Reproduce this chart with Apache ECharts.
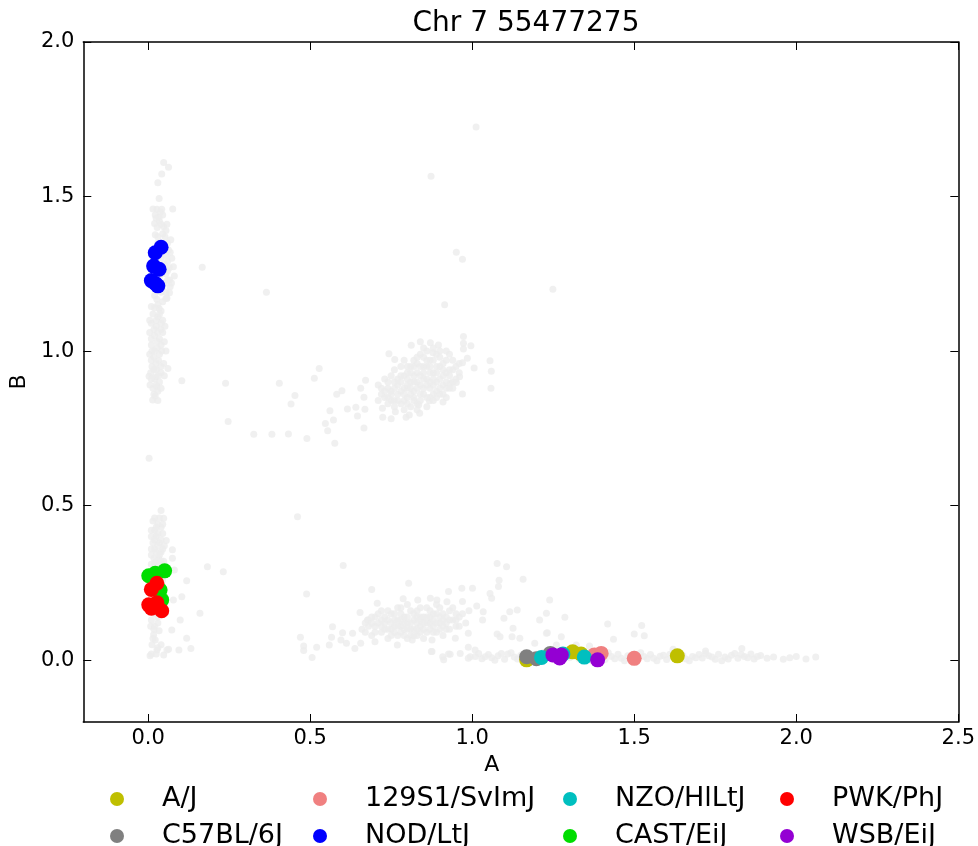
<!DOCTYPE html>
<html>
<head>
<meta charset="utf-8">
<script src="https://cdn.jsdelivr.net/npm/echarts@6/dist/echarts.min.js"></script>
<style>html,body{margin:0;padding:0;background:#fff;}#c{width:978px;height:846px;}</style>
</head>
<body>
<div id="c"></div>
<script>
// ---------------- data ----------------
const titleText = 'Chr 7 55477275';
const xTicks = [0.0, 0.5, 1.0, 1.5, 2.0, 2.5];
const yTicks = [0.0, 0.5, 1.0, 1.5, 2.0];
const strains = ['A/J', 'C57BL/6J', '129S1/SvImJ', 'NOD/LtJ', 'NZO/HlLtJ', 'CAST/EiJ', 'PWK/PhJ', 'WSB/EiJ'];

const ajPts   = [[1.168,0.001],[1.310,0.027],[1.336,0.020],[1.633,0.014]];
const b6Pts   = [[1.168,0.011],[1.198,0.005],[1.241,0.022]];
const s129Pts = [[1.377,0.017],[1.398,0.022],[1.500,0.006]];
const nodPts  = [[0.040,1.336],[0.022,1.318],[0.017,1.275],[0.034,1.265],[0.010,1.228],[0.030,1.211],[0.022,1.219]];
const nzoPts  = [[1.214,0.009],[1.280,0.020],[1.346,0.010]];
const castPts = [[0.002,0.273],[0.022,0.281],[0.051,0.289],[0.042,0.195],[0.037,0.227]];
const pwkPts  = [[0.027,0.249],[0.010,0.229],[0.002,0.179],[0.027,0.186],[0.042,0.160],[0.010,0.168]];
const wsbPts  = [[1.249,0.017],[1.275,0.017],[1.270,0.007],[1.387,0.001]];

const bgLeftTop = [[0.048,1.610],[0.063,1.595],[0.042,1.573],[0.030,1.545],[0.034,1.494],[0.027,1.459],[0.042,1.459],[0.076,1.460],[0.022,1.440],[0.034,1.433],[0.048,1.402],[0.020,1.413],[0.022,1.376],[0.052,1.370],[0.063,1.327],[0.073,1.300],[0.078,1.273],[0.081,1.243],[0.066,1.230],[0.068,1.208],[0.066,1.189],[0.058,1.171],[0.027,1.168],[0.034,1.138],[0.010,1.144],[0.167,1.271],[0.104,0.904],[0.239,0.896],[0.061,0.944],[0.014,0.842],[0.022,0.855],[0.027,0.885],[0.006,0.890],[0.003,0.919],[0.024,0.917],
[0.035,1.42],[0.045,1.38],[0.030,1.35],[0.050,1.34],[0.040,1.30],[0.060,1.29],[0.045,1.26],[0.055,1.25],[0.035,1.24],[0.050,1.22],[0.040,1.19],[0.020,1.18],[0.045,1.16],[0.015,1.12],[0.030,1.11],[0.045,1.10],[0.010,1.09],[0.025,1.08],[0.040,1.07],[0.005,1.06],[0.020,1.05],[0.035,1.04],[0.050,1.03],[0.010,1.02],[0.028,1.01],[0.042,1.00],[0.005,0.99],[0.018,0.98],[0.032,0.97],[0.048,0.96],[0.012,0.95],[0.026,0.94],[0.040,0.93],[0.008,0.93],[0.020,0.91],[0.035,0.90],[0.015,0.88],[0.030,0.87],[0.040,1.13],[0.052,1.08],[0.055,1.00],[0.050,0.92],[0.012,1.00],[0.038,1.45],[0.028,1.40],[0.058,1.41],[0.070,1.36],[0.068,1.32],[0.060,1.26],[0.072,1.22],[0.055,1.19],[0.025,1.29],[0.020,1.26],
[0.015,1.46],[0.045,1.44],[0.025,1.43],[0.040,1.41],[0.055,1.39],[0.030,1.37],[0.060,1.35],[0.045,1.33],[0.055,1.31],[0.035,1.31],[0.050,1.28],[0.065,1.27],[0.040,1.25],[0.060,1.23],[0.045,1.21],[0.055,1.17],[0.030,1.15],[0.020,1.14],[0.035,1.12],[0.025,1.10],[0.005,1.10],[0.040,1.09],[0.018,1.07],[0.030,1.06],[0.045,1.06],[0.010,1.04],[0.028,1.03],[0.040,1.02],[0.020,1.00],[0.035,0.99],[0.010,0.97],[0.025,0.96],[0.040,0.95],[0.018,0.94],[0.032,0.92],[0.010,0.91],[0.025,0.89],[0.040,0.88],[0.018,0.86],[0.030,0.84]];

const bgLeftBottom = [[0.247,0.772],[0.003,0.653],[0.183,0.302],[0.232,0.286],[0.119,0.257],[0.104,0.205],[0.078,0.195],[0.160,0.152],[0.099,0.130],[0.073,0.098],[0.119,0.071],[0.132,0.038],[0.095,0.033],[0.063,0.035],[0.034,0.095],[0.017,0.082],[0.022,0.065],[0.027,0.033],[0.006,0.014],[0.048,0.017],[0.058,0.033],[0.075,0.357],[0.075,0.330],[0.081,0.292],[0.056,0.387],[0.040,0.484],[0.048,0.459],
[0.015,0.45],[0.030,0.44],[0.020,0.42],[0.040,0.43],[0.010,0.40],[0.025,0.40],[0.045,0.41],[0.015,0.38],[0.035,0.38],[0.050,0.37],[0.010,0.36],[0.025,0.35],[0.040,0.35],[0.018,0.33],[0.032,0.33],[0.048,0.32],[0.010,0.31],[0.025,0.30],[0.040,0.30],[0.015,0.29],[0.055,0.30],[0.030,0.27],[0.045,0.26],[0.020,0.24],[0.040,0.22],[0.015,0.20],[0.035,0.17],[0.020,0.15],[0.010,0.13],[0.030,0.12],[0.012,0.05],[0.025,0.02],[0.040,0.05],[0.008,0.11],
[0.020,0.46],[0.035,0.46],[0.025,0.43],[0.045,0.44],[0.010,0.42],[0.030,0.41],[0.020,0.39],[0.040,0.39],[0.030,0.37],[0.045,0.36],[0.020,0.36],[0.035,0.34],[0.010,0.34],[0.025,0.32],[0.040,0.32],[0.020,0.31],[0.035,0.31],[0.050,0.29],[0.010,0.28],[0.040,0.28],[0.005,0.26],[0.025,0.26],[0.050,0.23],[0.045,0.19],[0.030,0.14],[0.018,0.10],[0.015,0.07],[0.030,0.04],[0.010,0.02],[0.020,0.11]];

const bgMidTop = [[0.873,1.566],[0.951,1.320],[0.970,1.297],[1.249,1.200],[0.365,1.190],[0.915,1.150],[1.012,1.725],[0.405,0.896],[0.528,0.944],[0.513,0.912],[0.453,0.856],[0.441,0.829],[0.326,0.731],[0.382,0.731],[0.433,0.732],[0.490,0.717],[0.576,0.702],[0.554,0.742],[0.547,0.766],[0.572,0.777],[0.561,0.807],[0.582,0.860],[0.598,0.872],[0.615,0.813],[0.641,0.818],[0.646,0.790],[0.666,0.751],[0.669,0.812],[0.671,0.906],[0.656,0.880],[0.666,0.851],[0.723,0.815],[0.724,0.786],[0.750,0.781],[0.743,0.991],[0.761,0.973],[0.763,0.804],[0.796,0.786],[0.806,0.793],[0.838,0.799],[0.812,1.019],[0.840,1.030],[0.871,1.027],[0.896,1.020],[0.879,0.995],[0.973,1.047],[0.973,1.025],[0.973,1.007],[0.996,1.017],[0.985,0.977],[0.970,0.962],[1.006,0.945],[1.055,0.969],[1.059,0.935],[1.058,0.880],[0.970,0.861],[0.910,0.835],[0.868,0.839],[0.835,0.826],[0.932,0.896],[0.951,0.898],[0.961,0.917],
[0.72,0.86],[0.74,0.88],[0.75,0.84],[0.76,0.90],[0.77,0.86],[0.78,0.92],[0.78,0.83],[0.79,0.88],[0.80,0.95],[0.80,0.85],[0.81,0.90],[0.82,0.97],[0.82,0.87],[0.83,0.93],[0.83,0.83],[0.84,0.89],[0.84,0.99],[0.85,0.95],[0.85,0.86],[0.86,0.91],[0.86,0.82],[0.87,0.97],[0.87,0.88],[0.88,0.93],[0.88,0.84],[0.89,0.99],[0.89,0.90],[0.90,0.95],[0.90,0.86],[0.91,0.92],[0.92,0.97],[0.92,0.88],[0.93,0.94],[0.94,0.90],[0.76,0.94],[0.79,0.97],[0.81,0.82],[0.73,0.91],[0.71,0.89],[0.74,0.83],[0.95,0.95],[0.96,0.93],[0.93,0.99],[0.90,1.00],[0.86,1.00],[0.80,0.91],[0.82,0.92],[0.84,0.86],[0.85,0.91],[0.87,0.93],[0.88,0.89],[0.83,0.96],[0.77,0.89],[0.79,0.84],[0.75,0.87],[0.91,0.96],[0.89,0.95],[0.94,0.97],[0.85,0.98],[0.81,0.95],[0.78,0.95],[0.76,0.82],[0.92,0.85],[0.87,0.85],[0.83,0.90],[0.86,0.95],[0.80,0.88],[0.89,0.87],[0.82,0.84],[0.91,0.89],
[0.71,0.84],[0.72,0.88],[0.73,0.85],[0.73,0.87],[0.74,0.90],[0.75,0.86],[0.75,0.92],[0.76,0.84],[0.76,0.88],[0.77,0.91],[0.77,0.84],[0.78,0.87],[0.78,0.90],[0.79,0.86],[0.79,0.92],[0.80,0.83],[0.80,0.89],[0.80,0.93],[0.81,0.86],[0.81,0.88],[0.81,0.93],[0.82,0.85],[0.82,0.90],[0.82,0.95],[0.83,0.88],[0.83,0.98],[0.84,0.84],[0.84,0.92],[0.84,0.95],[0.85,0.88],[0.85,0.93],[0.86,0.85],[0.86,0.89],[0.86,0.97],[0.87,0.90],[0.87,0.95],[0.88,0.86],[0.88,0.91],[0.88,0.97],[0.89,0.85],[0.89,0.93],[0.90,0.88],[0.90,0.91],[0.90,0.98],[0.91,0.86],[0.91,0.94],[0.92,0.90],[0.92,0.93],[0.93,0.88],[0.93,0.92],[0.94,0.94],[0.94,0.88],[0.95,0.91],[0.96,0.96],[0.85,1.01],[0.88,1.01],[0.92,1.00],[0.79,0.81],[0.83,0.81],[0.74,0.85]];

const bgMidBottom = [[0.461,0.464],[0.602,0.306],[0.489,0.214],[0.804,0.249],[0.690,0.229],[1.077,0.313],[1.106,0.302],[1.083,0.259],[1.081,0.238],[1.157,0.262],[1.055,0.216],[1.060,0.200],[1.239,0.195],[1.229,0.152],[1.208,0.130],[1.139,0.162],[1.116,0.157],[1.098,0.136],[1.126,0.103],[1.147,0.071],[1.123,0.076],[1.077,0.085],[1.086,0.076],[1.232,0.089],[1.260,0.049],[0.968,0.233],[1.001,0.233],[0.927,0.222],[1.014,0.175],[1.034,0.157],[1.032,0.130],[0.988,0.087],[0.948,0.071],[0.874,0.028],[0.909,0.011],[0.912,0.001],[0.932,0.019],[0.994,0.011],[0.988,0.042],[1.009,0.033],[0.480,0.046],[0.470,0.074],[0.480,0.031],[0.506,0.009],[0.520,0.042],[0.559,0.049],[0.566,0.074],[0.569,0.108],[0.595,0.065],[0.600,0.089],[0.612,0.055],[0.638,0.038],[0.656,0.055],[0.631,0.087],[0.654,0.154],[0.677,0.130],[0.700,0.060],[0.707,0.184],[0.769,0.049],[0.787,0.199],[0.832,0.195],[0.871,0.200],[0.891,0.195],[0.922,0.189],[0.876,0.065],[0.815,0.065],
[0.66,0.10],[0.68,0.13],[0.69,0.08],[0.70,0.11],[0.71,0.15],[0.72,0.09],[0.73,0.12],[0.74,0.07],[0.74,0.16],[0.75,0.10],[0.76,0.13],[0.77,0.08],[0.77,0.17],[0.78,0.11],[0.79,0.14],[0.80,0.07],[0.80,0.18],[0.81,0.10],[0.82,0.13],[0.83,0.16],[0.83,0.08],[0.84,0.11],[0.85,0.14],[0.86,0.09],[0.86,0.17],[0.87,0.12],[0.88,0.15],[0.89,0.09],[0.89,0.18],[0.90,0.12],[0.91,0.15],[0.92,0.10],[0.93,0.13],[0.94,0.17],[0.95,0.11],[0.96,0.14],[0.97,0.19],[0.98,0.12],[0.72,0.13],[0.75,0.15],[0.79,0.10],[0.81,0.16],[0.84,0.14],[0.85,0.07],[0.88,0.11],[0.91,0.08],[0.93,0.16],[0.76,0.11],[0.82,0.10],[0.87,0.14],[0.90,0.17],[0.70,0.14],[0.78,0.15],[0.80,0.12],[0.83,0.12],[0.86,0.12],[0.95,0.15],[0.99,0.16],[0.67,0.12],[0.73,0.10],
[0.67,0.09],[0.68,0.11],[0.69,0.12],[0.70,0.09],[0.71,0.12],[0.72,0.11],[0.73,0.14],[0.74,0.10],[0.74,0.13],[0.75,0.08],[0.75,0.12],[0.76,0.09],[0.76,0.15],[0.77,0.11],[0.77,0.13],[0.78,0.09],[0.78,0.13],[0.79,0.08],[0.79,0.12],[0.80,0.10],[0.80,0.14],[0.81,0.08],[0.81,0.12],[0.82,0.08],[0.82,0.15],[0.83,0.10],[0.83,0.14],[0.84,0.09],[0.84,0.13],[0.85,0.10],[0.85,0.12],[0.86,0.14],[0.87,0.10],[0.87,0.16],[0.88,0.09],[0.88,0.13],[0.89,0.12],[0.89,0.15],[0.90,0.10],[0.90,0.14],[0.91,0.11],[0.91,0.13],[0.92,0.14],[0.92,0.12],[0.93,0.10],[0.94,0.13],[0.95,0.13],[0.96,0.11],[0.97,0.15],[0.78,0.17],[0.84,0.17],[0.72,0.16],[0.69,0.14]];

const bgRight = [[1.01,0.012],[1.03,0.005],[1.05,0.018],[1.06,0.008],[1.08,0.014],[1.10,0.003],[1.11,0.020],[1.13,0.010],[1.15,0.016],[1.16,0.004],[1.18,0.012],[1.20,0.020],[1.21,0.006],[1.23,0.015],[1.25,0.003],[1.26,0.012],[1.28,0.021],[1.30,0.008],[1.31,0.016],[1.33,0.004],[1.35,0.013],[1.36,0.021],[1.38,0.007],[1.40,0.015],[1.41,0.002],[1.43,0.012],[1.45,0.019],[1.46,0.006],[1.48,0.014],[1.50,0.020],[1.51,0.004],[1.53,0.012],[1.55,0.018],[1.56,0.006],[1.58,0.013],[1.60,0.002],[1.61,0.019],[1.63,0.009],[1.65,0.015],[1.66,0.004],[1.68,0.012],[1.70,0.018],[1.71,0.007],[1.73,0.014],[1.75,0.003],[1.76,0.019],[1.78,0.010],[1.80,0.016],[1.82,0.006],[1.84,0.012],[1.87,0.004],[1.89,0.015],[1.93,0.010],[1.96,0.003],[2.00,0.012],[2.06,0.010],
[1.418,0.117],[1.523,0.112],[1.500,0.085],[1.531,0.079],[1.436,0.068],[1.286,0.139],[1.229,0.087],[1.275,0.076],[1.193,0.055],[1.321,0.049],[1.362,0.046],[1.832,0.038],[0.876,0.028],[0.927,0.020],[0.963,0.022],[0.988,0.006],[1.72,0.030],[1.62,0.035],
[1.02,0.022],[1.07,0.000],[1.12,0.024],[1.17,0.000],[1.22,0.025],[1.27,-0.002],[1.32,0.025],[1.37,-0.002],[1.42,0.024],[1.47,-0.002],[1.52,0.024],[1.57,-0.002],[1.62,0.024],[1.67,-0.002],[1.72,0.022],[1.77,-0.002],[1.81,0.022],[1.86,0.020],
[1.04,0.011],[1.09,0.022],[1.14,0.004],[1.19,0.016],[1.24,0.009],[1.29,0.014],[1.34,0.018],[1.39,0.011],[1.44,0.005],[1.49,0.009],[1.54,0.005],[1.59,0.016],[1.64,0.020],[1.69,0.008],[1.74,0.010],[1.79,0.004],[1.83,0.018],[1.85,0.008],[1.88,0.012],[1.91,0.006],[1.98,0.008],[2.03,0.004]];

// ---------------- styles ----------------
const strainData = [ajPts, b6Pts, s129Pts, nodPts, nzoPts, castPts, pwkPts, wsbPts];
const strainColors = ['#bfbf00', '#808080', '#f08080', '#0000ff', '#00bfbf', '#00dd00', '#ff0000', '#9400d3'];
const FONT = 'DejaVu Sans';

const chart = echarts.init(document.getElementById('c'), null, {renderer: 'canvas'});

const bgAll = [].concat(bgLeftTop, bgLeftBottom, bgMidTop, bgMidBottom, bgRight);

const series = [{
  type: 'scatter', name: 'bg', data: bgAll, symbolSize: 7,
  itemStyle: {color: '#ececec'}, silent: true, z: 1
}];
strains.forEach((s, i) => {
  series.push({
    type: 'scatter', name: s, data: strainData[i], symbolSize: 15,
    itemStyle: {color: strainColors[i], opacity: 1}, z: 2 + i
  });
});

// legend: 4 columns x 2 rows, column-major order
const legendMarkerX = [117, 320, 570, 787];
const legendRowY = [799, 836];
const legends = strains.map((s, i) => {
  const col = Math.floor(i / 2), row = i % 2;
  return {
    orient: 'horizontal', left: legendMarkerX[col] - 7, top: legendRowY[row] - 14,
    itemWidth: 14, itemHeight: 14, icon: 'circle', selectedMode: false, padding: 0,
    textStyle: {fontFamily: FONT, fontSize: 27, color: '#000', lineHeight: 28, padding: [0, 0, 0, 33]},
    data: [s]
  };
});

const tickFmt = v => v.toFixed(1);
const axisLineStyle = {color: '#000', width: 1.5};

chart.setOption({
  animation: false,
  backgroundColor: '#fff',
  title: {text: titleText, left: 521, top: 5, textAlign: 'center',
    textStyle: {fontFamily: FONT, fontSize: 28, fontWeight: 'normal', color: '#000'}},
  legend: legends,
  grid: {left: 81, right: 17, top: 42, bottom: 124, containLabel: false},
  xAxis: [{
    type: 'value', min: -0.2, max: 2.5, position: 'bottom',
    name: 'A', nameLocation: 'middle', nameGap: 30,
    nameTextStyle: {fontFamily: FONT, fontSize: 22, color: '#000', padding: [0, 58, 0, 0]},
    axisLine: {show: true, onZero: false, lineStyle: axisLineStyle},
    axisTick: {show: true, inside: true, length: 8, customValues: xTicks, lineStyle: {color: '#000', width: 1}},
    axisLabel: {show: true, customValues: xTicks, formatter: tickFmt, margin: 6,
      fontFamily: FONT, fontSize: 21, color: '#000'},
    splitLine: {show: false}
  }, {
    type: 'value', min: -0.2, max: 2.5, position: 'top',
    axisLine: {show: true, onZero: false, lineStyle: axisLineStyle},
    axisTick: {show: true, inside: true, length: 8, customValues: xTicks, lineStyle: {color: '#000', width: 1}},
    axisLabel: {show: false}, splitLine: {show: false}
  }],
  yAxis: [{
    type: 'value', min: -0.2, max: 2.0, position: 'left',
    name: 'B', nameLocation: 'middle', nameGap: 52, nameRotate: 90,
    nameTextStyle: {fontFamily: FONT, fontSize: 22, color: '#000'},
    axisLine: {show: true, onZero: false, lineStyle: axisLineStyle},
    axisTick: {show: true, inside: true, length: 8, customValues: yTicks, lineStyle: {color: '#000', width: 1}},
    axisLabel: {show: true, customValues: yTicks, formatter: tickFmt, margin: 9,
      fontFamily: FONT, fontSize: 21, color: '#000'},
    splitLine: {show: false}
  }, {
    type: 'value', min: -0.2, max: 2.0, position: 'right',
    axisLine: {show: true, onZero: false, lineStyle: axisLineStyle},
    axisTick: {show: true, inside: true, length: 8, customValues: yTicks, lineStyle: {color: '#000', width: 1}},
    axisLabel: {show: false}, splitLine: {show: false}
  }],
  series: series
});
</script>
</body>
</html>
